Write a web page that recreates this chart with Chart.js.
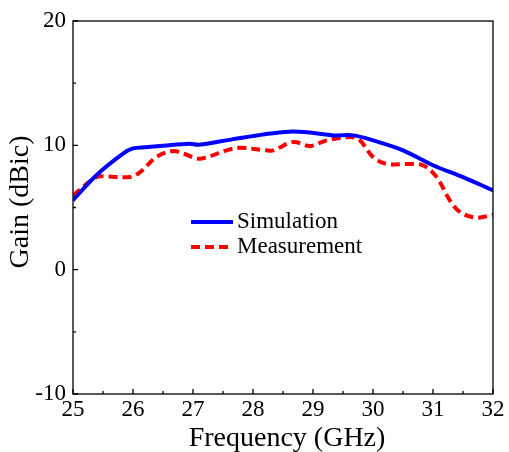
<!DOCTYPE html>
<html>
<head>
<meta charset="utf-8">
<script src="https://cdn.jsdelivr.net/npm/chart.js@4.4.0/dist/chart.umd.min.js"></script>
<style>
  html, body { margin: 0; padding: 0; background: #fff; }
  #wrap { width: 509px; height: 452px; }
</style>
</head>
<body>
<div id="wrap"><canvas id="gainChart" width="509" height="452"></canvas></div>
<script>
// Frequency (GHz) and gain (dBic)
const simFreq = [25, 25.39, 25.84, 26.0, 26.2, 26.5, 26.94, 27.1, 27.67, 28.2, 28.6, 28.9, 29.34, 29.67, 30.0, 30.5, 31.0, 31.5, 32];
const simGain = [5.58, 7.6, 9.35, 9.75, 9.85, 9.97, 10.13, 10.05, 10.5, 10.9, 11.1, 11.05, 10.8, 10.8, 10.4, 9.6, 8.4, 7.45, 6.38];

const measFreq = [25, 25.39, 25.56, 25.95, 26.12, 26.39, 26.67, 26.84, 27.12, 27.56, 27.78, 28.22, 28.34, 28.67, 28.95, 29.23, 29.62, 29.78, 30.0, 30.23, 30.56, 30.83, 31.06, 31.28, 31.45, 31.72, 32];
const measGain = [5.98, 7.45, 7.5, 7.45, 7.85, 9.06, 9.55, 9.33, 8.93, 9.6, 9.8, 9.6, 9.6, 10.27, 9.95, 10.4, 10.67, 10.4, 9.06, 8.5, 8.5, 8.4, 7.45, 5.58, 4.64, 4.18, 4.42];

const xMajor = [25, 26, 27, 28, 29, 30, 31, 32];
const xMinor = [25.5, 26.5, 27.5, 28.5, 29.5, 30.5, 31.5];
const yMajor = [-10, 0, 10, 20];
const yMinor = [-5, 5, 15];

const seriesNames = ["Simulation", "Measurement"];
const xTitle = "Frequency (GHz)";
const yTitle = "Gain (dBic)";

const toPoints = (xs, ys) => xs.map((x, i) => ({ x: x, y: ys[i] }));

const serif = "'Liberation Serif', 'Times New Roman', serif";

// frame, inward ticks, tick labels, titles and the in-plot legend
const framePlugin = {
    id: "frame",
    afterDraw(chart) {
        const ctx = chart.ctx;
        const a = chart.chartArea;
        const xs = chart.scales.x;
        const ys = chart.scales.y;
        ctx.save();
        ctx.strokeStyle = "#000";
        ctx.lineWidth = 1.3;
        ctx.strokeRect(a.left, a.top, a.right - a.left, a.bottom - a.top);

        ctx.beginPath();
        xMajor.forEach(v => { const p = xs.getPixelForValue(v); ctx.moveTo(p, a.bottom); ctx.lineTo(p, a.bottom - 5); });
        xMinor.forEach(v => { const p = xs.getPixelForValue(v); ctx.moveTo(p, a.bottom); ctx.lineTo(p, a.bottom - 3); });
        yMajor.forEach(v => { const p = ys.getPixelForValue(v); ctx.moveTo(a.left, p); ctx.lineTo(a.left + 5, p); });
        yMinor.forEach(v => { const p = ys.getPixelForValue(v); ctx.moveTo(a.left, p); ctx.lineTo(a.left + 3, p); });
        ctx.stroke();

        // tick labels
        ctx.fillStyle = "#000";
        ctx.font = "23px " + serif;
        ctx.textBaseline = "middle";
        ctx.textAlign = "center";
        xMajor.forEach(v => ctx.fillText(String(v), xs.getPixelForValue(v), a.bottom + 16));
        ctx.textAlign = "right";
        yMajor.forEach(v => ctx.fillText(String(v), a.left - 7, ys.getPixelForValue(v)));

        // axis titles
        ctx.font = "28px " + serif;
        ctx.textAlign = "center";
        ctx.fillText(xTitle, 287, 439);
        ctx.save();
        ctx.translate(21, 202);
        ctx.rotate(-Math.PI / 2);
        ctx.fillText(yTitle, 0, 0);
        ctx.restore();

        // legend
        const lx = 191, lw = 42;
        const rows = [222, 247];
        chart.data.datasets.forEach((ds, i) => {
            ctx.beginPath();
            ctx.strokeStyle = ds.borderColor;
            ctx.lineWidth = ds.borderWidth;
            ctx.setLineDash(ds.borderDash || []);
            ctx.moveTo(lx, rows[i]);
            ctx.lineTo(lx + lw, rows[i]);
            ctx.stroke();
            ctx.setLineDash([]);
            ctx.fillStyle = "#000";
            ctx.font = "23px " + serif;
            ctx.textBaseline = "middle";
            ctx.textAlign = "left";
            ctx.fillText(ds.label, lx + lw + 4, rows[i]);
        });
        ctx.restore();
    }
};

new Chart(document.getElementById("gainChart"), {
    type: "line",
    data: {
        datasets: [
            {
                label: seriesNames[0],
                data: toPoints(simFreq, simGain),
                borderColor: "#0000ff",
                borderWidth: 4,
                pointRadius: 0,
                tension: 0.35,
                fill: false
            },
            {
                label: seriesNames[1],
                data: toPoints(measFreq, measGain),
                borderColor: "#ff0000",
                borderWidth: 4,
                borderDash: [9, 5],
                pointRadius: 0,
                tension: 0.35,
                fill: false
            }
        ]
    },
    options: {
        responsive: false,
        animation: false,
        layout: { padding: { left: 0, right: 16, top: 21, bottom: 0 } },
        plugins: {
            legend: { display: false },
            tooltip: { enabled: false }
        },
        scales: {
            x: {
                type: "linear",
                min: 25,
                max: 32,
                grid: { display: false },
                border: { display: false },
                ticks: { display: false, stepSize: 1 },
                afterFit: s => { s.height = 58; }
            },
            y: {
                min: -10,
                max: 20,
                grid: { display: false },
                border: { display: false },
                ticks: { display: false, stepSize: 10 },
                afterFit: s => { s.width = 73; }
            }
        }
    },
    plugins: [framePlugin]
});
</script>
</body>
</html>
